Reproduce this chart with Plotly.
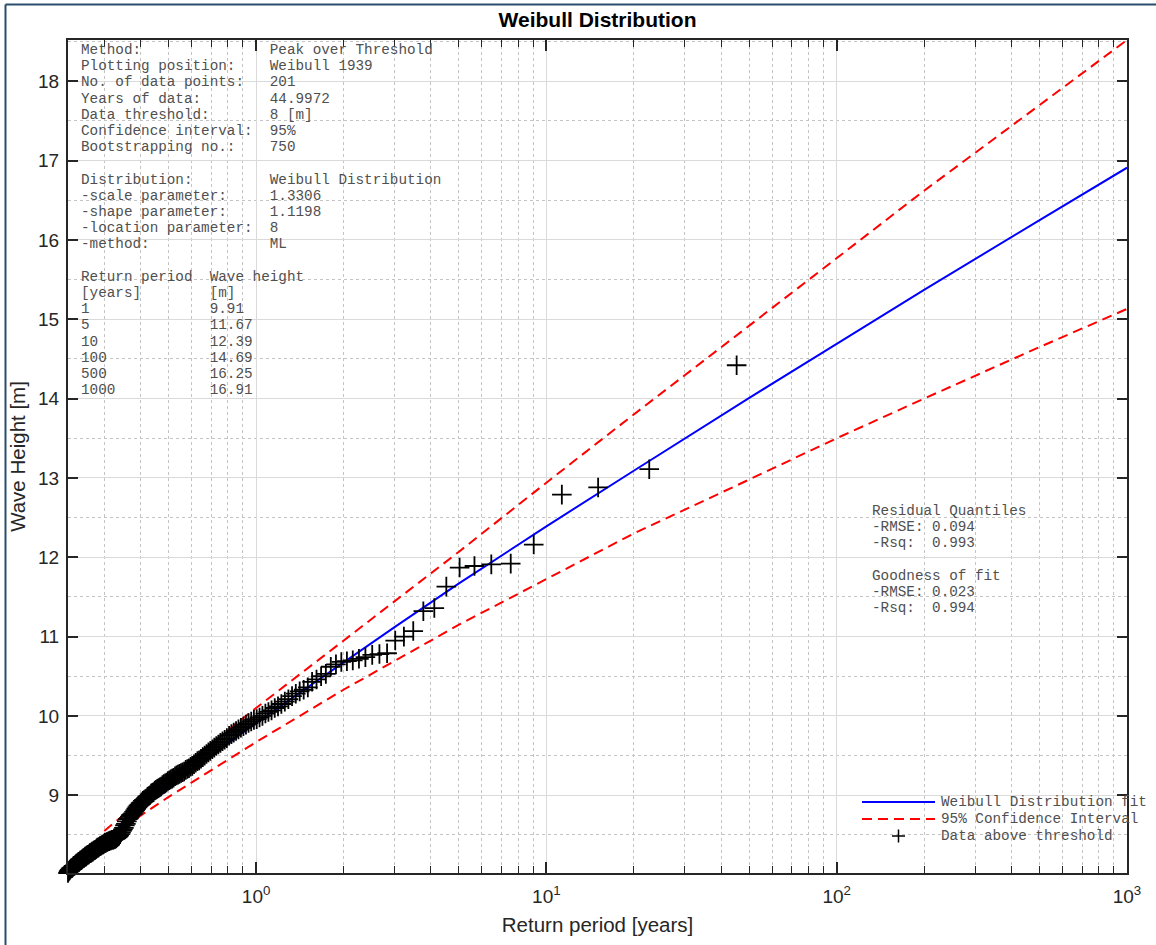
import numpy as np
import plotly.graph_objects as go

# ---------------- data ----------------
YEARS_OF_DATA = 44.9972

# wave heights above threshold, sorted descending (rank 1 = largest)
wave_heights = [
    14.42, 13.11, 12.88, 12.79, 12.16, 11.92, 11.91, 11.89, 11.87, 11.63,
    11.36, 11.32, 11.07, 11.00, 10.95, 10.79, 10.78, 10.77, 10.74, 10.72,
    10.70, 10.69, 10.68, 10.65, 10.62, 10.53, 10.50, 10.46, 10.43, 10.36,
    10.33, 10.31, 10.28, 10.25, 10.21, 10.18, 10.15, 10.12, 10.10, 10.07,
    10.05, 10.03, 10.00, 9.98, 9.96, 9.95, 9.93, 9.91, 9.89, 9.87,
    9.85, 9.83, 9.81, 9.79, 9.77, 9.75, 9.72, 9.70, 9.68, 9.66,
    9.64, 9.62, 9.60, 9.58, 9.56, 9.54, 9.52, 9.50, 9.48, 9.46,
    9.44, 9.43, 9.41, 9.39, 9.37, 9.36, 9.34, 9.33, 9.32, 9.30,
    9.29, 9.28, 9.27, 9.26, 9.25, 9.24, 9.22, 9.21, 9.20, 9.19,
    9.18, 9.16, 9.15, 9.14, 9.13, 9.11, 9.10, 9.09, 9.08, 9.07,
    9.06, 9.04, 9.03, 9.02, 9.00, 8.99, 8.98, 8.96, 8.95, 8.94,
    8.93, 8.91, 8.90, 8.88, 8.87, 8.85, 8.83, 8.81, 8.79, 8.77,
    8.76, 8.75, 8.73, 8.71, 8.70, 8.67, 8.64, 8.62, 8.59, 8.57,
    8.55, 8.53, 8.51, 8.49, 8.48, 8.47, 8.46, 8.45, 8.45, 8.44,
    8.44, 8.44, 8.43, 8.43, 8.42, 8.42, 8.41, 8.41, 8.40, 8.40,
    8.39, 8.38, 8.38, 8.37, 8.36, 8.36, 8.35, 8.34, 8.34, 8.33,
    8.32, 8.31, 8.31, 8.30, 8.29, 8.29, 8.28, 8.27, 8.27, 8.26,
    8.25, 8.25, 8.24, 8.23, 8.23, 8.22, 8.21, 8.21, 8.20, 8.19,
    8.18, 8.18, 8.17, 8.16, 8.16, 8.15, 8.14, 8.14, 8.13, 8.12,
    8.11, 8.11, 8.10, 8.09, 8.08, 8.08, 8.07, 8.06, 8.05, 8.04,
    8.02,
]

# fitted Weibull return levels
fit_period = [0.3, 0.4, 0.5, 0.7, 1, 2, 3, 5, 10, 20, 50, 100, 200, 500, 1000]
fit_height = [8.44, 8.82, 9.09, 9.50, 9.91, 10.68, 11.12, 11.67, 12.39, 13.09,
              14.01, 14.69, 15.37, 16.25, 16.91]

# 95% confidence interval
ci_upper_period = [0.3, 0.5, 1, 2, 5, 10, 20, 50, 100, 200, 500, 1000]
ci_upper_height = [8.55, 9.22, 10.10, 10.95, 12.07, 12.94, 13.80, 14.92,
                   15.77, 16.62, 17.70, 18.52]
ci_lower_period = [0.35, 0.5, 1, 2, 5, 10, 20, 50, 100, 200, 500, 1000]
ci_lower_height = [8.60, 8.98, 9.67, 10.33, 11.15, 11.73, 12.30, 12.98,
                   13.50, 14.00, 14.65, 15.13]

x_tick_values = [1, 10, 100, 1000]
x_tick_labels = ["10<sup>0</sup>", "10<sup>1</sup>", "10<sup>2</sup>", "10<sup>3</sup>"]

info_rows = [
    ("Method:", "Peak over Threshold"),
    ("Plotting position:", "Weibull 1939"),
    ("No. of data points:", "201"),
    ("Years of data:", "44.9972"),
    ("Data threshold:", "8 [m]"),
    ("Confidence interval:", "95%"),
    ("Bootstrapping no.:", "750"),
    None,
    ("Distribution:", "Weibull Distribution"),
    ("-scale parameter:", "1.3306"),
    ("-shape parameter:", "1.1198"),
    ("-location parameter:", "8"),
    ("-method:", "ML"),
    None,
]
table_periods = ["1", "5", "10", "100", "500", "1000"]
table_heights = ["9.91", "11.67", "12.39", "14.69", "16.25", "16.91"]

gof_lines = ["Residual Quantiles", "-RMSE: 0.094", "-Rsq:  0.993", "",
             "Goodness of fit", "-RMSE: 0.023", "-Rsq:  0.994"]

legend_names = ["Weibull Distribution fit", "95% Confidence Interval",
                "Data above threshold"]

# ---------------- derived ----------------
n = len(wave_heights)
rank = np.arange(1, n + 1)
# Weibull (1939) plotting position for peak-over-threshold data
return_period = (n + 1) / rank * YEARS_OF_DATA / n

# ---------------- layout geometry ----------------
W, H = 1156, 945
ML, MR, MT, MB = 68, 29, 40, 72
PW, PH = W - ML - MR, H - MT - MB


def px(xp):
    return (xp - ML) / PW


def py(yp):
    return 1 - (yp - MT) / PH


NB = "\u00a0"
MONO = "Liberation Mono"
SANS = "Liberation Sans, Arial, sans-serif"
TXT = "#505050"
AX = "#262626"

fig = go.Figure()
fig.add_trace(go.Scatter(x=fit_period, y=fit_height, mode="lines",
                         line=dict(color="#0000ff", width=2),
                         name=legend_names[0], showlegend=False))
fig.add_trace(go.Scatter(x=ci_upper_period, y=ci_upper_height, mode="lines",
                         line=dict(color="#ff0000", width=2, dash="10px,6px"),
                         name=legend_names[1], showlegend=False))
fig.add_trace(go.Scatter(x=ci_lower_period, y=ci_lower_height, mode="lines",
                         line=dict(color="#ff0000", width=2, dash="10px,6px"),
                         name=legend_names[1], showlegend=False))
fig.add_trace(go.Scatter(x=return_period, y=wave_heights, mode="markers",
                         marker=dict(symbol="cross-thin", size=14,
                                     line=dict(color="black", width=1.8)),
                         name=legend_names[2], showlegend=False,
                         cliponaxis=False))

annotations = []

# info block
lines = []
for r in info_rows:
    if r is None:
        lines.append("")
    else:
        lines.append(r[0].ljust(22) + r[1])
lines.append("Return period".ljust(15) + "Wave height")
lines.append("[years]".ljust(15) + "[m]")
for a, b in zip(table_periods, table_heights):
    lines.append(a.ljust(15) + b)

for k, s in enumerate(lines):
    if not s:
        continue
    annotations.append(dict(
        text=s.replace(" ", NB), xref="paper", yref="paper",
        x=px(79), y=py(50 + 16.2 * k), xanchor="left", yanchor="middle",
        showarrow=False, font=dict(family=MONO, size=14.3, color=TXT)))

for k, s in enumerate(gof_lines):
    if not s:
        continue
    annotations.append(dict(
        text=s.replace(" ", NB), xref="paper", yref="paper",
        x=px(870), y=py(511 + 16.2 * k), xanchor="left", yanchor="middle",
        showarrow=False, font=dict(family=MONO, size=14.3, color=TXT)))

# custom legend
leg_y = [802, 819, 836]
for name, yy in zip(legend_names, leg_y):
    annotations.append(dict(
        text=name.replace(" ", NB), xref="paper", yref="paper",
        x=px(939), y=py(yy), xanchor="left", yanchor="middle",
        showarrow=False, font=dict(family=MONO, size=14.3, color=TXT)))

shapes = [
    dict(type="line", xref="paper", yref="paper", x0=px(862), x1=px(935),
         y0=py(leg_y[0]), y1=py(leg_y[0]), line=dict(color="#0000ff", width=2)),
    dict(type="line", xref="paper", yref="paper", x0=px(862), x1=px(935),
         y0=py(leg_y[1]), y1=py(leg_y[1]),
         line=dict(color="#ff0000", width=2, dash="10px,6px")),
    dict(type="line", xref="paper", yref="paper", x0=px(892), x1=px(905),
         y0=py(leg_y[2]), y1=py(leg_y[2]), line=dict(color="black", width=1.5)),
    dict(type="line", xref="paper", yref="paper", x0=px(898.5), x1=px(898.5),
         y0=py(leg_y[2] - 6.5), y1=py(leg_y[2] + 6.5),
         line=dict(color="black", width=1.5)),
    # outer frame (only top/left edges visible)
    dict(type="line", xref="paper", yref="paper", x0=px(5.5), x1=px(1170),
         y0=py(4.5), y1=py(4.5), line=dict(color="#2a4d6e", width=2)),
    dict(type="line", xref="paper", yref="paper", x0=px(5.5), x1=px(5.5),
         y0=py(4.5), y1=py(960), line=dict(color="#2a4d6e", width=2)),
]

minor_x = [m * 10.0 ** d for d in (-1, 0, 1, 2) for m in range(2, 10)
           if m * 10.0 ** d > min(return_period)]

fig.update_layout(
    width=W, height=H,
    margin=dict(l=ML, r=MR, t=MT, b=MB, autoexpand=False),
    paper_bgcolor="white", plot_bgcolor="white",
    showlegend=False,
    title=dict(text="<b>Weibull Distribution</b>", x=0.5,
               xref="paper", y=1 - 20 / H, yref="container",
               xanchor="center", yanchor="middle",
               font=dict(family=SANS, size=21, color="black")),
    annotations=annotations,
    shapes=shapes,
    xaxis=dict(
        type="log", range=[np.log10(min(return_period)), 3],
        tickmode="array", tickvals=x_tick_values, ticktext=x_tick_labels,
        ticks="inside", ticklen=11, tickwidth=1.5, tickcolor=AX,
        showline=True, linecolor=AX, linewidth=2, mirror="ticks",
        showgrid=True, gridcolor="#dadada", gridwidth=1,
        zeroline=False, ticklabelstandoff=5,
        tickfont=dict(family=SANS, size=19, color=AX),
        title=dict(text="Return period [years]", standoff=12,
                   font=dict(family=SANS, size=20.5, color=AX)),
        minor=dict(tickmode="array", tickvals=minor_x, ticks="inside",
                   ticklen=7, tickwidth=1.2, tickcolor=AX,
                   showgrid=True, gridcolor="#c4c4c4", griddash="dot",
                   gridwidth=1),
        automargin=False,
    ),
    yaxis=dict(
        range=[min(wave_heights), max(ci_upper_height)],
        dtick=1, tick0=0,
        ticks="inside", ticklen=10, tickwidth=1.5, tickcolor=AX,
        showline=True, linecolor=AX, linewidth=2, mirror="ticks",
        showgrid=True, gridcolor="#dadada", gridwidth=1,
        zeroline=False, ticklabelstandoff=3,
        tickfont=dict(family=SANS, size=19, color=AX),
        title=dict(text="Wave Height [m]", standoff=7,
                   font=dict(family=SANS, size=20.5, color=AX)),
        minor=dict(dtick=0.5, tick0=0, showgrid=True, gridcolor="#c4c4c4",
                   griddash="dot", gridwidth=1),
        automargin=False,
    ),
)

fig.write_html("out.html")
